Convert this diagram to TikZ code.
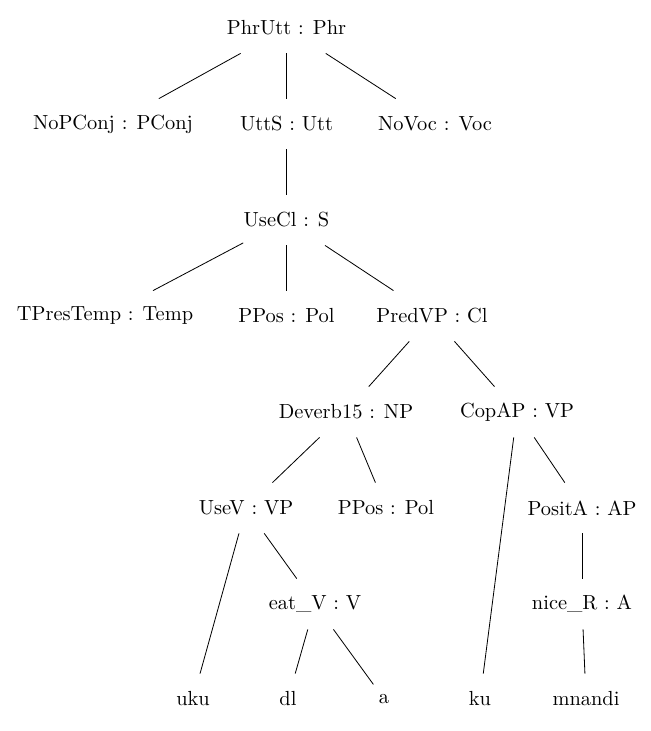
\documentclass[tikz,border=0pt]{standalone}
\usepackage{tikz}

\begin{document}
\begin{tikzpicture}[x=0.49pt,y=-0.49pt,lab/.style={inner sep=0pt,minimum height=24.5pt,minimum width=10pt}]
\useasboundingbox(0,0)rectangle(651,731);
\node[lab](phr)at(286.5,28){PhrUtt : Phr};
\node[lab](pconj)at(113,124){NoPConj : PConj};\node[lab](utt)at(286.5,124){UttS : Utt};\node[lab](voc)at(435,124){NoVoc : Voc};
\node[lab](s)at(286.5,220){UseCl : S};
\node[lab](temp)at(105,316){TPresTemp : Temp};\node[lab](pol)at(286.5,316){PPos : Pol};\node[lab](cl)at(432,316){PredVP : Cl};
\node[lab](np)at(346,412){Deverb15 : NP};\node[lab](vpa)at(517,412){CopAP : VP};
\node[lab](vp)at(246,508){UseV : VP};\node[lab](polb)at(386,508){PPos : Pol};\node[lab](ap)at(582,508){PositA : AP};
\node[lab](v)at(315,604){eat\_V : V};\node[lab](a)at(582,604){nice\_R : A};
\node[lab](uku)at(193,699){uku};\node[lab](dl)at(288,699){dl};\node[lab](wa)at(384,699){a};
\node[lab](ku)at(480,699){ku};\node[lab](mnandi)at(586,699){mnandi};
% branches
\draw(phr)--(pconj);\draw(phr)--(utt);\draw(phr)--(voc);
\draw(utt)--(s);
\draw(s)--(temp);\draw(s)--(pol);\draw(s)--(cl);
\draw(cl)--(np);\draw(cl)--(vpa);
\draw(np)--(vp);\draw(np)--(polb);\draw(vpa)--(ku);\draw(vpa)--(ap);
\draw(vp)--(uku);\draw(vp)--(v);\draw(ap)--(a);
\draw(v)--(dl);\draw(v)--(wa);\draw(a)--(mnandi);
\end{tikzpicture}
\end{document}
